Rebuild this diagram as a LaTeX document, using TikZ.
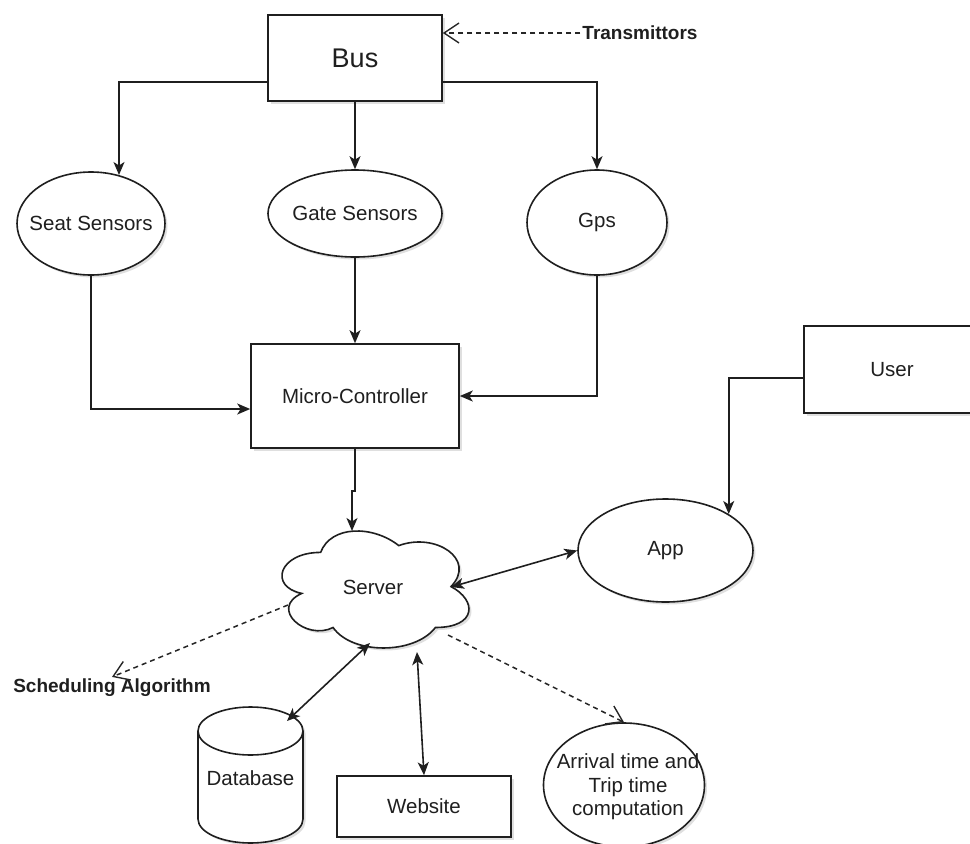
\documentclass[tikz,border=0pt]{standalone}
\usepackage{fontspec}
\setmainfont{Liberation Sans}
\usetikzlibrary{arrows.meta,shapes.geometric,shadows}
\begin{document}
\begin{tikzpicture}[x=1pt,y=-1pt,
  every node/.style={font=\fontsize{20.5}{23.5}\selectfont, text=black!88},
  ln/.style={line width=1.6pt, draw=black!88},
  arr/.style={ln, -{Stealth[length=13pt,width=11pt,inset=3.5pt]}},
  barr/.style={ln, {Stealth[length=13pt,width=11pt,inset=3.5pt]}-{Stealth[length=13pt,width=11pt,inset=3.5pt]}},
  darr/.style={line width=1.5pt, draw=black!85, dash pattern=on 5pt off 4pt, -{Straight Barb[length=15pt,width=20pt,line width=1.4pt]}},
  shad/.style={drop shadow={shadow xshift=2.5pt,shadow yshift=-2.5pt,opacity=0.18,fill=black!70}},
  boxn/.style={ln, fill=white, shad, rectangle, inner sep=0pt},
  elln/.style={ln, fill=white, shad, ellipse, inner sep=0pt},
  lbl/.style={font=\fontsize{19}{22}\selectfont\bfseries, inner sep=2pt},
]
\useasboundingbox (0,0) rectangle (970,844);
\clip (0,0) rectangle (970,844);

% --- nodes ---
\node[boxn, minimum width=174pt, minimum height=86pt, font=\fontsize{27}{30}\selectfont] (bus) at (355,58) {Bus};
\node[lbl] (trans) at (640,33) {Transmittors};

\node[elln, minimum width=148pt, minimum height=103pt, label=center:Seat Sensors] (seat) at (91,223.5) {};
\node[elln, minimum width=174pt, minimum height=87pt, label=center:Gate Sensors] (gate) at (355,213.5) {};
\node[elln, minimum width=140pt, minimum height=105pt] (gps) at (597,222.5) {Gps};

\node[boxn, minimum width=208pt, minimum height=104pt] (mc) at (355,396) {Micro-Controller};

\node[boxn, minimum width=176pt, minimum height=87pt] (user) at (892,369.5) {User};
\node[elln, minimum width=175pt, minimum height=103pt] (app) at (665.5,550.5) {App};

% server cloud
\draw[ln, fill=white, shad]
  (320.6,552.4) .. controls (278.8,552.4) and (268.4,586.6) .. (301.8,593.4)
  .. controls (268.4,608.4) and (306.0,641.2) .. (333.1,627.5)
  .. controls (351.9,654.8) and (414.5,654.8) .. (435.4,627.5)
  .. controls (477.1,627.5) and (477.1,600.2) .. (451.0,586.6)
  .. controls (477.1,559.3) and (435.4,532.0) .. (398.8,545.6)
  .. controls (372.8,525.1) and (331.0,525.1) .. (320.6,552.4) -- cycle;
\node (server) at (373,587) {Server};
\coordinate (srvN) at (352,531);
\coordinate (srvE) at (451,587);
\coordinate (srvW) at (288,605);
\coordinate (srvSW) at (370,643);
\coordinate (srvS) at (417,652);
\coordinate (srvSE) at (448,635);

\node[lbl] (sched) at (112,688) {Scheduling Algorithm};

% database cylinder
\draw[ln, fill=white, shad] (198,731) -- (198,819) arc[start angle=180,end angle=0,x radius=52.5,y radius=24]
  -- (303,731) arc[start angle=360,end angle=180,x radius=52.5,y radius=24] -- cycle;
\draw[ln] (198,731) arc[start angle=180,end angle=0,x radius=52.5,y radius=24];
\node (db) at (250.5,778) {Database};
\coordinate (dbT) at (287,721);

\node[boxn, minimum width=174pt, minimum height=61pt] (web) at (424,806.5) {Website};
\node[elln, minimum width=161pt, minimum height=124pt,
  label={[align=center, xshift=4pt, yshift=-2pt]center:Arrival time and\\Trip time\\computation}] (arr) at (624,785) {};

% --- connectors ---
\draw[darr] (trans.west) -- ([yshift=25pt]bus.east);
\draw[arr] ([yshift=20pt]bus.south west) -| (seat.60.6);
\draw[arr] (bus.south) -- (gate.north);
\draw[arr] ([yshift=20pt]bus.south east) -| (gps.north);
\draw[arr] (seat.south) |- ([yshift=-13pt]mc.west);
\draw[arr] (gate.south) -- (mc.north);
\draw[arr] (gps.south) |- (mc.east);
\draw[arr] (mc.south) -- ++(0,42) -- ++(-3,0) -- (srvN);
\draw[arr] ([yshift=-8.5pt]user.west) -| (app.30.8);
\draw[barr] (srvE) -- (app.west);
\draw[darr] (srvW) -- (sched.north);
\draw[barr] (srvSW) -- (dbT);
\draw[barr] (srvS) -- (web.north);
\draw[darr] (srvSE) -- (arr.north);
\end{tikzpicture}
\end{document}
